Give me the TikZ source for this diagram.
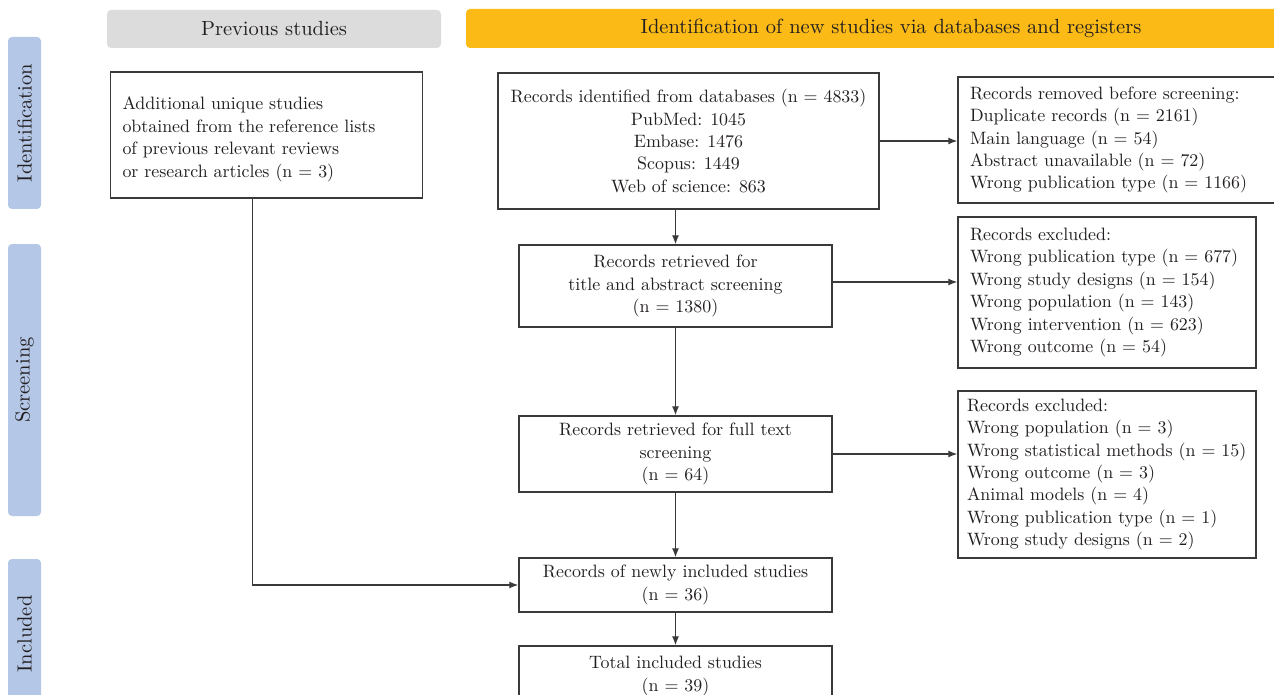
\documentclass[tikz,border=0pt]{standalone}
\usepackage{fontspec}
\setmainfont{lmroman10-regular.otf}[BoldFont=lmroman10-bold.otf,ItalicFont=lmroman10-italic.otf]
\usetikzlibrary{arrows.meta,calc}
\definecolor{txt}{HTML}{231F20}
\definecolor{edge}{HTML}{3A3A3A}
\definecolor{hgray}{HTML}{DCDCDC}
\definecolor{horange}{HTML}{FBBA16}
\definecolor{sblue}{HTML}{B4C7E7}
\begin{document}
\begin{tikzpicture}[x=1pt,y=-1pt,
  every node/.style={text=txt},
  hdr/.style={rounded corners=4pt, minimum height=38pt, inner sep=0pt, font=\fontsize{20.5}{24}\selectfont},
  side/.style={fill=sblue, rounded corners=4pt, rotate=90, minimum height=33pt, inner sep=0pt, font=\fontsize{20.5}{24}\selectfont},
  box/.style={draw=edge, line width=1.4pt, inner sep=0pt, font=\fontsize{17.9}{22.4}\selectfont, align=center},
  lbox/.style={box, align=left, inner xsep=12pt},
  arr/.style={draw=edge, line width=1.3pt, -{Latex[length=9pt,width=7pt]}}
]
\clip (0,0) rectangle (1274,695);
\fill[white] (0,0) rectangle (1274,695);

% headers
\node[hdr, fill=hgray, minimum width=334pt] (hprev) at (274,29) {Previous studies};
\node[hdr, fill=horange, minimum width=850pt, minimum height=39pt] (hnew) at (891,28.5) {Identification of new studies via databases and registers};

% side bars
\node[side, minimum width=172pt] (sid) at (24.5,123) {Identification};
\node[side, minimum width=272pt] (sscr) at (24.5,380) {Screening};
\node[side, minimum width=150pt] (sinc) at (24.5,634) {Included};

% boxes
\node[lbox, text width=288pt, minimum height=126pt] (prev) at (266.5,135)
  {\rule{0pt}{21.5pt}Additional unique studies\\obtained from the reference lists\\of previous relevant reviews\\or research articles (n = 3)};
\node[box, minimum width=381pt, minimum height=136pt] (db) at (688.5,141)
  {Records identified from databases (n = 4833)\\PubMed: 1045\\Embase: 1476\\Scopus: 1449\\Web of science: 863};
\node[lbox, text width=298pt, minimum height=126pt] (rm) at (1119,140)
  {Records removed before screening:\\Duplicate records (n = 2161)\\Main language (n = 54)\\Abstract unavailable (n = 72)\\Wrong publication type (n = 1166)};
\node[box, minimum width=313pt, minimum height=82pt] (ta) at (675.5,286)
  {Records retrieved for\\title and abstract screening\\(n = 1380)};
\node[lbox, text width=274pt, minimum height=151pt] (ex1) at (1107,292.5)
  {Records excluded:\\Wrong publication type (n = 677)\\Wrong study designs (n = 154)\\Wrong population (n = 143)\\Wrong intervention (n = 623)\\Wrong outcome (n = 54)};
\node[box, minimum width=313pt, minimum height=76pt] (ft) at (675.5,454)
  {Records retrieved for full text\\screening\\(n = 64)};
\node[lbox, inner xsep=9pt, text width=280pt, minimum height=167pt] (ex2) at (1107,474.5)
  {Records excluded:\\Wrong population (n = 3)\\Wrong statistical methods (n = 15)\\Wrong outcome (n = 3)\\Animal models (n = 4)\\Wrong publication type (n = 1)\\Wrong study designs (n = 2)};
\node[box, minimum width=313pt, minimum height=54pt] (ni) at (675.5,585)
  {Records of newly included studies\\(n = 36)};
\node[box, minimum width=313pt, minimum height=60pt] (tot) at (675.5,676)
  {Total included studies\\(n = 39)};

% connectors
\draw[arr] (db.south -| ta.north) -- (ta.north);
\draw[arr] (db.east) -- (db.east -| rm.west);
\draw[arr] ([yshift=4pt]ta.east) -- ([yshift=4pt]ta.east -| ex1.west);
\draw[arr] (ta.south) -- (ft.north);
\draw[arr] (ft.east) -- (ft.east -| ex2.west);
\draw[arr] (ft.south) -- (ni.north);
\draw[arr] (ni.south) -- (tot.north);
\draw[arr] ([xshift=142.5pt]prev.south west) |- (ni.west);
\end{tikzpicture}
\end{document}
